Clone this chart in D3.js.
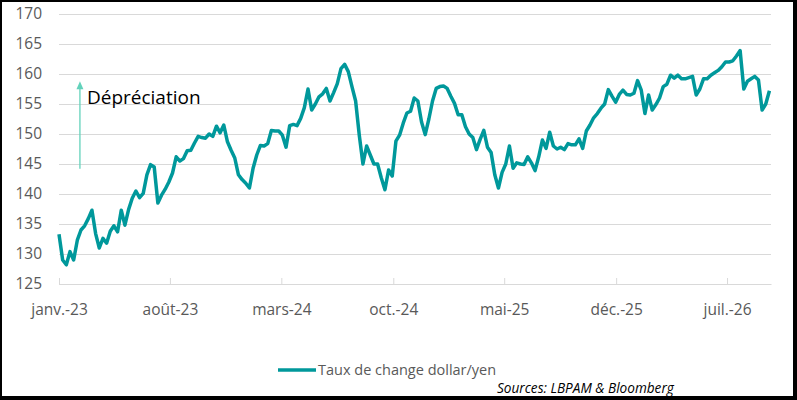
<html>
<head>
<meta charset="utf-8">
<script src="https://d3js.org/d3.v7.min.js"></script>
<style>
  body { margin: 0; background: white; }
  text { font-family: "Open Sans", sans-serif; }
</style>
</head>
<body>
<svg id="chart" width="797" height="400"></svg>
<script>

// weekly USD/JPY closes, one array per year
var firstWeek = "2023-01-01";
var fx2023 = [133.3, 129.0, 128.2, 130.4, 129.0, 132.3, 134.0, 134.7, 135.9, 137.3,
  133.4, 131.0, 132.6, 131.8, 133.8, 134.7, 133.7, 137.3, 134.8, 137.4,
  139.3, 140.5, 139.4, 140.1, 143.2, 144.9, 144.5, 138.5, 139.8, 140.8,
  142.0, 143.5, 146.2, 145.5, 145.9, 147.2, 147.3, 148.5, 149.6, 149.4,
  149.3, 150.0, 149.6, 151.3, 150.2, 151.5, 148.7, 147.3, 146.0, 143.2,
  142.4, 141.8, 141.0];
var fx2024 = [144.3, 146.5, 148.1, 148.0, 148.4, 150.6, 150.5, 150.5, 149.8, 147.8,
  151.4, 151.6, 151.4, 152.6, 154.4, 157.5, 154.0, 155.0, 156.2, 156.7,
  157.6, 155.5, 156.9, 158.4, 160.9, 161.6, 160.4, 157.9, 155.5, 149.8,
  145.0, 148.0, 146.5, 145.0, 145.0, 142.7, 140.7, 144.0, 143.0, 148.8,
  149.8, 151.8, 153.5, 153.8, 156.0, 155.5, 152.0, 149.9, 152.5, 155.5,
  157.6, 157.9];
var fx2025 = [158.0, 157.6, 156.3, 155.1, 153.2, 153.2, 151.2, 150.0, 149.4, 147.4,
  149.1, 150.6, 147.8, 146.9, 143.2, 141.0, 143.6, 145.0, 148.0, 144.3,
  145.2, 145.0, 144.9, 146.2, 145.2, 143.9, 146.2, 149.0, 147.6, 150.3,
  148.0, 147.5, 147.8, 147.4, 148.4, 148.2, 148.2, 149.2, 147.6, 150.5,
  151.5, 152.7, 153.4, 154.3, 155.0, 157.4, 156.3, 155.3, 156.6, 157.3,
  156.6, 156.5];
var fx2026 = [156.8, 158.9, 157.3, 153.4, 156.5, 154.0, 154.9, 156.0, 157.9, 158.3,
  159.8, 159.3, 159.8, 159.2, 159.2, 159.4, 159.6, 156.5, 157.5, 159.2,
  159.2, 159.8, 160.2, 160.6, 161.2, 162.0, 162.0, 162.2, 163.0, 163.9,
  157.5, 158.8, 159.2, 159.6, 159.0, 154.0, 155.0, 157.2];

var yTicks = [125, 130, 135, 140, 145, 150, 155, 160, 165, 170];
var xTickDates = ["2023-01-01", "2023-08-01", "2024-03-01", "2024-10-01",
  "2025-05-01", "2025-12-01", "2026-07-01"];
var xTickLabels = ["janv.-23", "août-23", "mars-24", "oct.-24", "mai-25", "déc.-25", "juil.-26"];
var seriesName = "Taux de change dollar/yen";
var sourceText = "Sources: LBPAM & Bloomberg";
var arrowFrom = {date: "2023-02-10", value: 144.2};
var arrowTo = {date: "2023-02-10", value: 158.8};
var arrowLabel = "Dépréciation";

var parse = d3.timeParse("%Y-%m-%d");
var start = parse(firstWeek);

var values = fx2023.concat(fx2024, fx2025, fx2026);
var data = values.map(function(v, i) {
  return {date: d3.timeDay.offset(start, 7 * i), value: v};
});

var svg = d3.select("#chart");
var plotLeft = 59, plotRight = 771, plotTop = 14, plotBottom = 284;

var x = d3.scaleTime()
  .domain([start, d3.timeDay.offset(data[data.length - 1].date, 3)])
  .range([plotLeft, plotRight]);

var y = d3.scaleLinear()
  .domain([125, 170])
  .range([plotBottom, plotTop]);

var grey = "#d9d9d9";
var textGrey = "#595959";
var teal = "#00989b";

// horizontal grid + y labels
var yAxis = svg.append("g")
  .attr("transform", "translate(" + plotLeft + ",0)")
  .call(d3.axisLeft(y)
    .tickValues(yTicks)
    .tickSize(-(plotRight - plotLeft))
    .tickPadding(17));
yAxis.select(".domain").remove();
yAxis.selectAll(".tick line").attr("stroke", grey);
yAxis.selectAll("text")
  .attr("fill", textGrey)
  .style("font-size", "15.5px")
  .style("font-family", "'Open Sans', sans-serif");

// x axis with small ticks pointing up
var xAxis = svg.append("g")
  .attr("transform", "translate(0," + plotBottom + ")")
  .call(d3.axisBottom(x)
    .tickValues(xTickDates.map(parse))
    .tickFormat(function(d, i) { return xTickLabels[i]; })
    .tickSizeInner(-6)
    .tickSizeOuter(0)
    .tickPadding(20));
xAxis.select(".domain").attr("stroke", grey);
xAxis.selectAll(".tick line").attr("stroke", grey);
xAxis.selectAll("text")
  .attr("fill", textGrey)
  .style("font-size", "15.5px")
  .style("font-family", "'Open Sans', sans-serif");

// the series
var line = d3.line()
  .x(function(d) { return x(d.date); })
  .y(function(d) { return y(d.value); });

svg.append("path")
  .datum(data)
  .attr("d", line)
  .attr("fill", "none")
  .attr("stroke", teal)
  .attr("stroke-width", 3.5)
  .attr("stroke-linejoin", "round");

// depreciation arrow
var arrowColor = "#62d2bb";
var ax = x(parse(arrowFrom.date));
var tipY = y(arrowTo.value);

svg.append("line")
  .attr("x1", ax)
  .attr("y1", y(arrowFrom.value))
  .attr("x2", ax)
  .attr("y2", tipY + 6)
  .attr("stroke", arrowColor)
  .attr("stroke-width", 1.3);

svg.append("path")
  .attr("d", "M" + (ax - 3.5) + "," + (tipY + 8) +
    " L" + ax + "," + tipY +
    " L" + (ax + 3.5) + "," + (tipY + 8) + " Z")
  .attr("fill", arrowColor);

svg.append("text")
  .attr("x", ax + 7)
  .attr("y", 104)
  .attr("fill", "#000")
  .style("font-size", "19px")
  .text(arrowLabel);

// legend
svg.append("line")
  .attr("x1", 278).attr("x2", 316)
  .attr("y1", 370).attr("y2", 370)
  .attr("stroke", teal)
  .attr("stroke-width", 3.5);

svg.append("text")
  .attr("x", 318)
  .attr("y", 375)
  .attr("fill", textGrey)
  .style("font-size", "14.5px")
  .text(seriesName);

svg.append("text")
  .attr("x", 497)
  .attr("y", 393)
  .attr("fill", "#000")
  .style("font-size", "13.6px")
  .style("font-style", "italic")
  .text(sourceText);

// frame
svg.append("rect")
  .attr("x", 0).attr("y", 0)
  .attr("width", 795).attr("height", 398)
  .attr("fill", "none")
  .attr("stroke", "#000")
  .attr("stroke-width", 4);

</script>
</body>
</html>
